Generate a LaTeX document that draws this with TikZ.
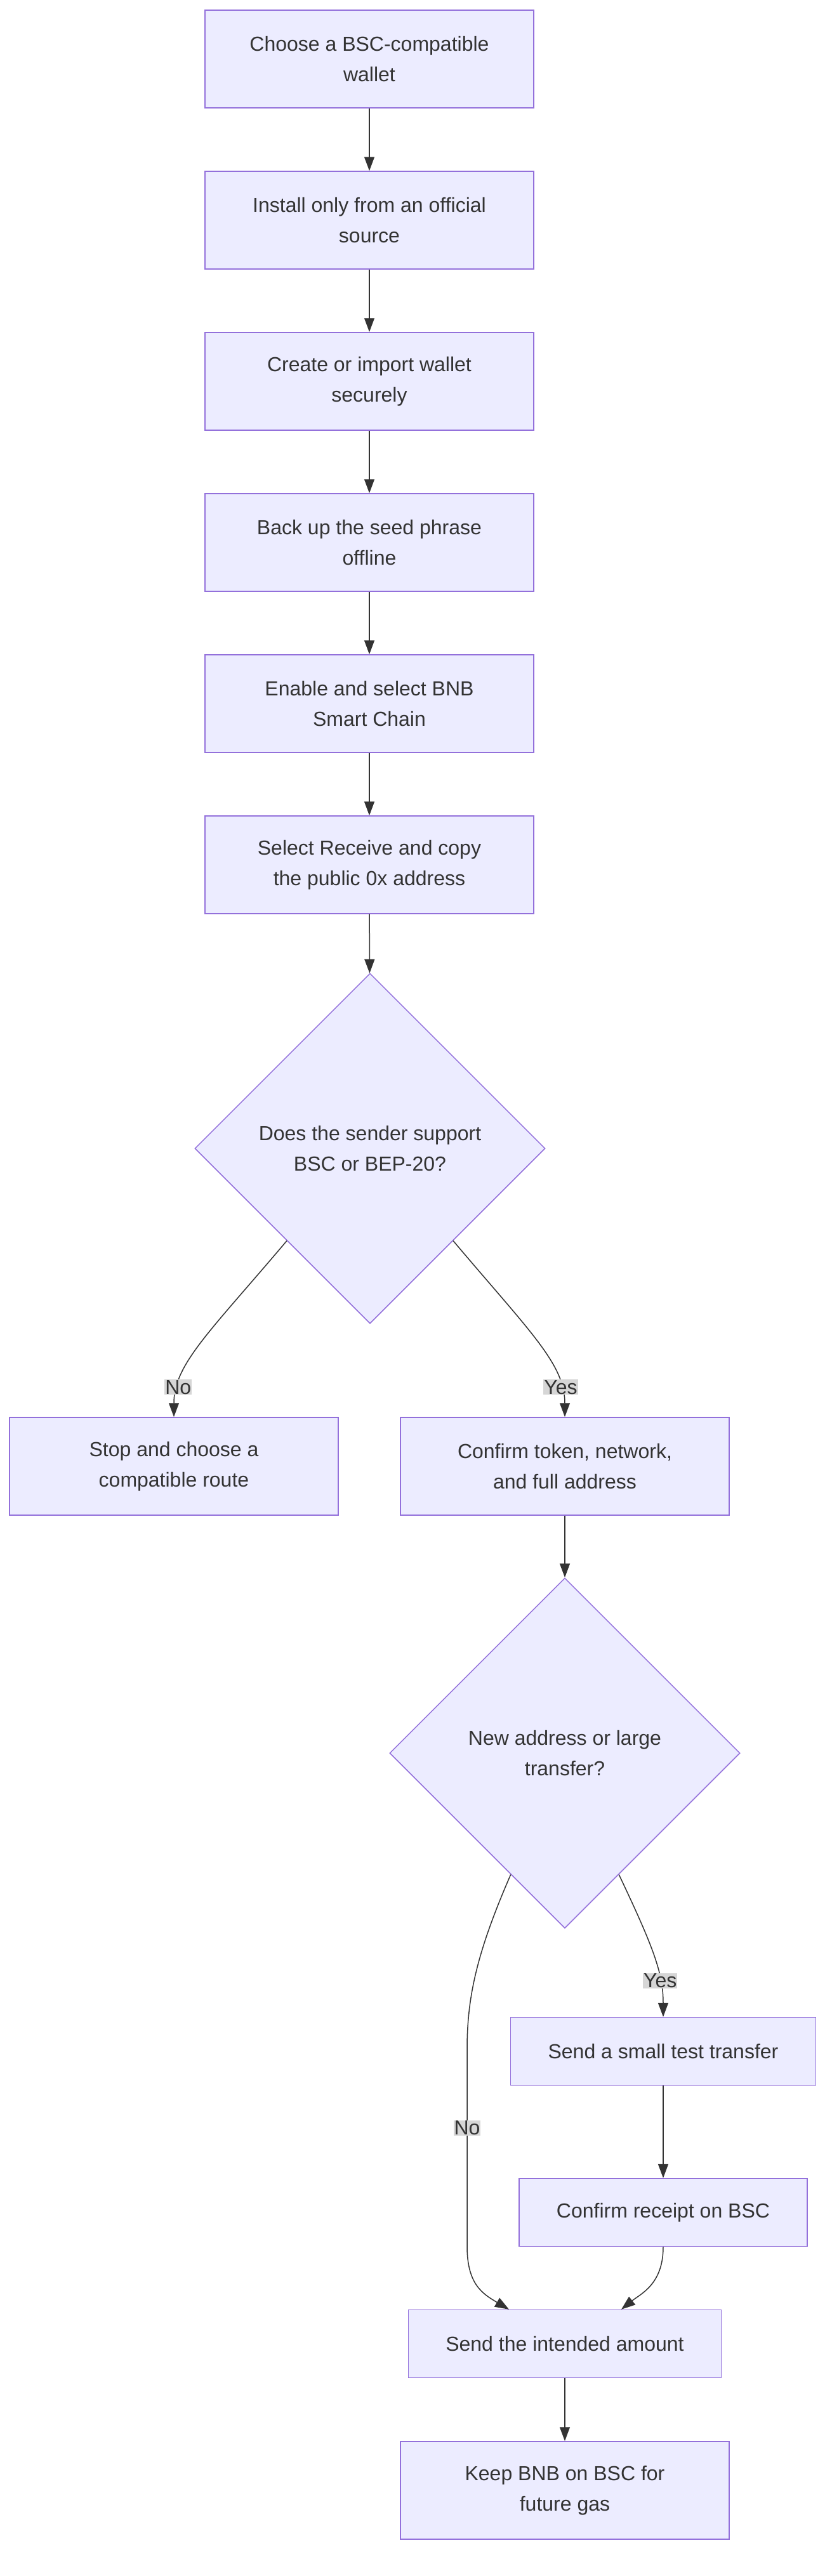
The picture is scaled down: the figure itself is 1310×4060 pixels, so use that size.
\documentclass[tikz,border=0pt]{standalone}
\usepackage{fontspec}
\setmainfont{Liberation Sans}
\usetikzlibrary{positioning, shapes.geometric, arrows.meta}

\definecolor{boxfill}{HTML}{ECECFF}
\definecolor{boxline}{HTML}{9370DB}
\definecolor{inkgray}{HTML}{333333}
\definecolor{lblfill}{HTML}{D6D6D6}

\begin{document}
\begin{tikzpicture}[x=1pt, y=-1pt, font=\fontsize{32}{48}\selectfont,
  step node/.style={rectangle, draw=boxline, fill=boxfill, line width=1.5pt,
    text=inkgray, align=center, minimum width=518pt, minimum height=154pt, inner sep=0pt},
  flat node/.style={step node, minimum height=107pt},
  ask node/.style={diamond, draw=boxline, fill=boxfill, line width=1.5pt, text=inkgray,
    align=center, minimum width=552pt, minimum height=552pt, inner sep=0pt},
  arr/.style={draw=inkgray, line width=1.5pt, -{Triangle[length=22pt, width=16pt]}},
  lbl/.style={fill=lblfill, text=inkgray, inner sep=1pt}]

\useasboundingbox (0,0) rectangle (1310,4060);

\node[step node] (choose)  at (582,93)   {Choose a BSC-compatible\\wallet};
\node[step node] (install) at (582,347)  {Install only from an official\\source};
\node[step node] (create)  at (582,601)  {Create or import wallet\\securely};
\node[step node] (backup)  at (582,855)  {Back up the seed phrase\\offline};
\node[step node] (enable)  at (582,1109) {Enable and select BNB\\Smart Chain};
\node[step node] (receive) at (582,1363) {Select Receive and copy\\the public 0x address};
\node[ask node]  (sender)  at (583,1810) {Does the sender support\\BSC or BEP-20?};
\node[step node] (stop)    at (274,2311) {Stop and choose a\\compatible route};
\node[step node] (confirm) at (890,2311) {Confirm token, network,\\and full address};
\node[ask node]  (large)   at (890,2763) {New address or large\\transfer?};
\node[flat node, minimum width=481pt] (test)    at (1045,3233) {Send a small test transfer};
\node[flat node, minimum width=454pt] (receipt) at (1045,3487) {Confirm receipt on BSC};
\node[flat node, minimum width=493pt] (amount)  at (890,3694)  {Send the intended amount};
\node[step node] (keep)    at (890,3925) {Keep BNB on BSC for\\future gas};

\draw[arr] (choose) -- (install);
\draw[arr] (install) -- (create);
\draw[arr] (create) -- (backup);
\draw[arr] (backup) -- (enable);
\draw[arr] (enable) -- (receive);
\draw[arr] (receive) -- (sender);

\draw[arr] (sender.228) .. controls (330,2100) and (274,2150) .. node[lbl, pos=0.8] {No} (stop.north);
\draw[arr] (sender.-48) .. controls (836,2100) and (890,2150) .. node[lbl, pos=0.8] {Yes} (confirm.north);
\draw[arr] (confirm) -- (large);
\draw[arr] (large.-66) .. controls (1030,3070) and (1045,3110) .. node[lbl, pos=0.7] {Yes} (test.north);
\draw[arr] (large.-114) .. controls (750,3080) and (736,3150) .. (736,3230)
  -- node[lbl, pos=0.4] {No} (736,3540) .. controls (736,3600) and (760,3615) .. ([xshift=-88pt]amount.north);
\draw[arr] (test) -- (receipt);
\draw[arr] (receipt.south) .. controls (1045,3600) and (1010,3615) .. ([xshift=89pt]amount.north);
\draw[arr] (amount) -- (keep);

\end{tikzpicture}
\end{document}
